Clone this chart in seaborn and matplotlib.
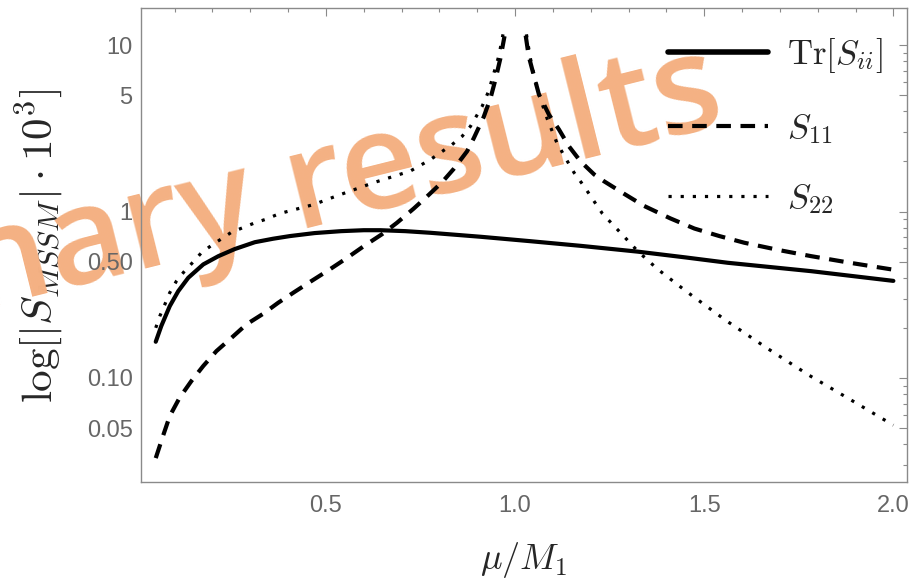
import seaborn as sns
import matplotlib.pyplot as plt
import matplotlib.ticker as mticker
from matplotlib.lines import Line2D
import pandas as pd
import numpy as np

# values
x_tr = [0.05, 0.0646, 0.087, 0.1094, 0.136, 0.1756, 0.2155, 0.259, 0.312, 0.36, 0.405,
        0.47, 0.54, 0.6, 0.644, 0.71, 0.776, 0.909, 1.041, 1.173, 1.324, 1.45, 1.562,
        1.783, 2.0]
y_tr = [0.165, 0.205, 0.27, 0.332, 0.40, 0.481, 0.539, 0.595, 0.654, 0.686, 0.712,
        0.742, 0.762, 0.772, 0.772, 0.762, 0.745, 0.705, 0.663, 0.622, 0.574, 0.53, 0.492,
        0.438, 0.383]

x_s11_left = [0.05, 0.069, 0.087, 0.113, 0.144, 0.1756, 0.2104, 0.25, 0.29, 0.334,
              0.3737, 0.418, 0.4622, 0.5107, 0.555, 0.5995, 0.648, 0.6875, 0.7317, 0.767,
              0.807, 0.8375, 0.873, 0.8905, 0.917, 0.935, 0.948, 0.961, 0.972]
y_s11_left = [0.033, 0.0447, 0.059, 0.076, 0.0957, 0.118, 0.145, 0.174, 0.21, 0.243,
              0.283, 0.33, 0.383, 0.45, 0.525, 0.618, 0.73, 0.855, 1.04, 1.23,
              1.50, 1.80, 2.3, 2.75, 3.7, 4.8, 6.2, 8.3, 11.3]
x_s11_right = [1.028, 1.036, 1.05, 1.063, 1.09, 1.116, 1.142, 1.173, 1.209, 1.235,
               1.29, 1.341, 1.41, 1.474, 1.54, 1.606, 1.7, 1.783, 1.89, 2.0]
y_s11_right = [11.4, 8.57, 6.5, 5.05, 3.8, 3.11, 2.47, 2.0, 1.67, 1.52,
               1.27, 1.08, 0.91, 0.79, 0.712, 0.649, 0.585, 0.539, 0.49, 0.447]

x_s22_left = [0.05, 0.0607, 0.0739, 0.087, 0.1044, 0.126, 0.1484, 0.1706, 0.197, 0.25,
              0.312, 0.339, 0.378, 0.467, 0.528, 0.626, 0.723, 0.776, 0.833, 0.86,
              0.882, 0.913, 0.93, 0.944, 0.957, 0.968]
y_s22_left = [0.20, 0.235, 0.276, 0.325, 0.381, 0.438, 0.496, 0.565, 0.625, 0.75,
              0.855, 0.895, 0.973, 1.10, 1.24, 1.49, 1.75, 2.05, 2.52, 2.83,
              3.25, 4.29, 5.28, 6.8, 8.6, 11.6]
x_s22_right = [1.03, 1.04, 1.05, 1.065, 1.085, 1.11, 1.133, 1.156, 1.182, 1.209,
               1.231, 1.28, 1.324, 1.377, 1.452, 1.558, 1.668, 1.778, 1.893, 2.0]
y_s22_right = [11.6, 8.4, 6.6, 4.9, 3.6, 2.6, 2.1, 1.71, 1.42, 1.15,
               0.97, 0.74, 0.578, 0.45, 0.332, 0.221, 0.150, 0.1035, 0.0726, 0.052]

labels = [r'$\mathrm{Tr}[S_{ii}]$', r'$S_{11}$', r'$S_{22}$']
ytick_vals = [0.05, 0.1, 0.5, 1, 5, 10]
ytick_labels = ['0.05', '0.10', '0.50', '1', '5', '10']
xtick_vals = [0.5, 1.0, 1.5, 2.0]
xtick_labels = ['0.5', '1.0', '1.5', '2.0']

sns.set_style("white")
plt.rcParams['font.family'] = ['Liberation Sans', 'DejaVu Sans']
plt.rcParams['mathtext.fontset'] = 'cm'

frames = []
frames.append(pd.DataFrame({"x": x_tr, "y": y_tr, "curve": "tr", "branch": 0}))
frames.append(pd.DataFrame({"x": x_s11_left, "y": y_s11_left, "curve": "s11", "branch": 0}))
frames.append(pd.DataFrame({"x": x_s11_right, "y": y_s11_right, "curve": "s11", "branch": 1}))
frames.append(pd.DataFrame({"x": x_s22_left, "y": y_s22_left, "curve": "s22", "branch": 0}))
frames.append(pd.DataFrame({"x": x_s22_right, "y": y_s22_right, "curve": "s22", "branch": 1}))
df = pd.concat(frames, ignore_index=True)

styles = {"tr": dict(lw=3.0, ls="-"),
          "s11": dict(lw=3.0, ls=(0, (3.5, 2.3))),
          "s22": dict(lw=2.3, ls=(0, (1, 2.8)))}

fig = plt.figure(figsize=(9.12, 5.79), dpi=100)
ax = fig.add_axes([0.1546, 0.1675, 0.8399, 0.8187])
ax.set_facecolor('none')

# y label sits under the watermark, watermark under the axes
fig.text(0.044, 0.575, r'$\log[|S_{MSSM}|\cdot 10^3]$', fontsize=31, rotation=90,
         ha='center', va='center', zorder=-2)
fig.text(0.798, 0.7876, "Preliminary results", fontsize=98, color="#F4B183",
         rotation=14, rotation_mode="anchor", ha="right", va="baseline",
         family="Open Sans", fontweight="semibold", zorder=-1)

for (curve, branch), sub in df.groupby(["curve", "branch"]):
    st = styles[curve]
    sns.lineplot(data=sub, x="x", y="y", ax=ax, color="black", linewidth=st["lw"],
                 linestyle=st["ls"], sort=False, estimator=None)

ax.set_yscale('log')
ax.set_xlim(0.011, 2.036)
ax.set_ylim(0.0237, 16.7)

ax.yaxis.set_major_locator(mticker.FixedLocator(ytick_vals))
ax.yaxis.set_major_formatter(mticker.FixedFormatter(ytick_labels))
ax.yaxis.set_minor_locator(mticker.LogLocator(base=10, subs=np.arange(1, 10)))
ax.yaxis.set_minor_formatter(mticker.NullFormatter())
ax.xaxis.set_major_locator(mticker.FixedLocator(xtick_vals))
ax.xaxis.set_major_formatter(mticker.FixedFormatter(xtick_labels))
ax.xaxis.set_minor_locator(mticker.MultipleLocator(0.1))

ax.tick_params(which='both', direction='in', top=True, right=True,
               color='#8a8a8a', labelcolor='#666666', labelsize=17, width=0.8)
ax.tick_params(which='major', length=5.5)
ax.tick_params(which='minor', length=3.2)
ax.tick_params(axis='y', pad=6)
ax.tick_params(axis='x', pad=9)
for sp in ax.spines.values():
    sp.set_color('#8a8a8a')
    sp.set_linewidth(1.0)

ax.set_xlabel(r'$\mu/M_1$', fontsize=26, labelpad=17)
ax.set_ylabel('')

handles = [Line2D([], [], color='black', lw=styles[c]["lw"] + (1.0 if c == "tr" else 0),
                  ls=styles[c]["ls"]) for c in ["tr", "s11", "s22"]]
ax.legend(handles, labels, loc='upper left', bbox_to_anchor=(0.7325, 0.937),
          bbox_transform=fig.transFigure, frameon=False, fontsize=25,
          handlelength=2.88, handletextpad=0.55, labelspacing=1.05,
          borderpad=0, borderaxespad=0)

fig.savefig("out.png", dpi=100)
